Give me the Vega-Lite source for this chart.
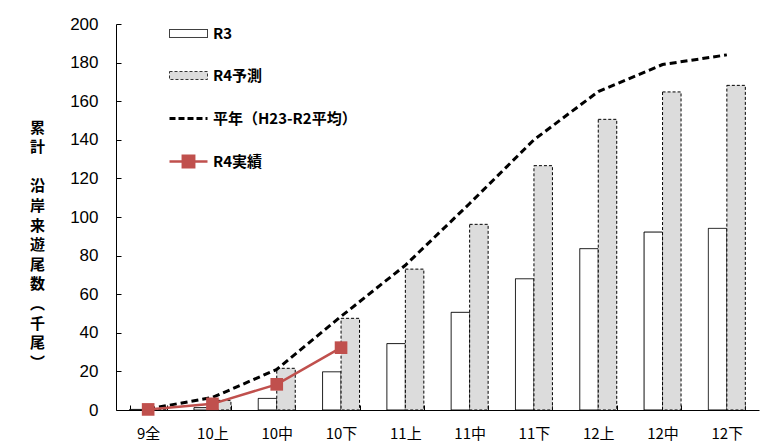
{
  "$schema": "https://vega.github.io/schema/vega-lite/v6.json",
  "width": 643,
  "height": 386,
  "autosize": {"type": "none"},
  "padding": {"left": 116, "top": 24, "right": 10, "bottom": 34},
  "background": "white",
  "config": {
    "view": {"stroke": null},
    "axis": {"domainColor": "black", "tickColor": "black", "labelColor": "black", "grid": false, "domainWidth": 1, "tickWidth": 1},
    "legend": {"padding": 0}
  },
  "data": {
    "values": [
      {"cat": "9全", "series": "R3", "value": 0.3},
      {"cat": "10上", "series": "R3", "value": 1.2},
      {"cat": "10中", "series": "R3", "value": 6},
      {"cat": "10下", "series": "R3", "value": 19.8},
      {"cat": "11上", "series": "R3", "value": 34.4},
      {"cat": "11中", "series": "R3", "value": 50.6},
      {"cat": "11下", "series": "R3", "value": 68},
      {"cat": "12上", "series": "R3", "value": 83.6},
      {"cat": "12中", "series": "R3", "value": 92.2},
      {"cat": "12下", "series": "R3", "value": 94.1},
      {"cat": "9全", "series": "R4予測", "value": 0.5},
      {"cat": "10上", "series": "R4予測", "value": 5},
      {"cat": "10中", "series": "R4予測", "value": 21.6},
      {"cat": "10下", "series": "R4予測", "value": 47.5},
      {"cat": "11上", "series": "R4予測", "value": 73},
      {"cat": "11中", "series": "R4予測", "value": 96.2},
      {"cat": "11下", "series": "R4予測", "value": 126.6},
      {"cat": "12上", "series": "R4予測", "value": 150.6},
      {"cat": "12中", "series": "R4予測", "value": 164.8},
      {"cat": "12下", "series": "R4予測", "value": 168.2},
      {"cat": "9全", "series": "平年（H23-R2平均）", "value": 0.5},
      {"cat": "10上", "series": "平年（H23-R2平均）", "value": 6.5},
      {"cat": "10中", "series": "平年（H23-R2平均）", "value": 21},
      {"cat": "10下", "series": "平年（H23-R2平均）", "value": 48.5},
      {"cat": "11上", "series": "平年（H23-R2平均）", "value": 75},
      {"cat": "11中", "series": "平年（H23-R2平均）", "value": 107},
      {"cat": "11下", "series": "平年（H23-R2平均）", "value": 140},
      {"cat": "12上", "series": "平年（H23-R2平均）", "value": 165},
      {"cat": "12中", "series": "平年（H23-R2平均）", "value": 179},
      {"cat": "12下", "series": "平年（H23-R2平均）", "value": 184},
      {"cat": "9全", "series": "R4実績", "value": 0.3},
      {"cat": "10上", "series": "R4実績", "value": 3.2},
      {"cat": "10中", "series": "R4実績", "value": 13.3},
      {"cat": "10下", "series": "R4実績", "value": 32.3}
    ]
  },
  "encoding": {
    "x": {
      "field": "cat", "type": "nominal", "sort": null,
      "scale": {"domain": ["9全","10上","10中","10下","11上","11中","11下","12上","12中","12下"], "paddingInner": 0.425, "paddingOuter": 0.2125},
      "axis": {"title": null, "labelAngle": 0, "labelFont": "Noto Sans CJK JP", "labelFontSize": 15, "labelPadding": 21, "tickSize": -5, "tickBand": "extent"}
    },
    "y": {
      "field": "value", "type": "quantitative",
      "scale": {"domain": [0, 200], "nice": false},
      "axis": {
        "values": [0,20,40,60,80,100,120,140,160,180,200],
        "labelFont": "Liberation Sans", "labelFontSize": 17, "labelPadding": 23, "tickSize": -5,
        "title": ["累","計","\u200b","沿","岸","来","遊","尾","数","︵","千","尾","︶"],
        "titleFont": "Noto Sans CJK JP", "titleFontSize": 15, "titleFontWeight": "bold", "titleColor": "black",
        "titleAngle": 0, "titleLineHeight": 19.6, "titleX": -79, "titleY": 96, "titleAlign": "center", "titleBaseline": "top"
      }
    }
  },
  "layer": [
    {
      "transform": [{"filter": "false"}],
      "mark": {"type": "point", "filled": true, "opacity": 1},
      "encoding": {
        "fill": {
          "field": "series", "type": "nominal",
          "scale": {"domain": ["R3", "R4予測", "平年（H23-R2平均）", "R4実績"], "range": ["white", "#dcdcdc", "transparent", "#c0504d"]},
          "legend": {
            "title": null, "orient": "none", "legendX": 52, "legendY": -10,
            "symbolSize": 1444, "symbolOpacity": 1, "labelFont": "Noto Sans CJK JP", "labelFontSize": 15, "labelFontWeight": "bold", "labelColor": "black",
            "labelOffset": 4, "rowPadding": 14
          }
        },
        "stroke": {
          "field": "series", "type": "nominal",
          "scale": {"domain": ["R3", "R4予測", "平年（H23-R2平均）", "R4実績"], "range": ["black", "#333333", "black", "#c0504d"]}
        },
        "shape": {
          "field": "series", "type": "nominal",
          "scale": {"domain": ["R3", "R4予測", "平年（H23-R2平均）", "R4実績"], "range": ["M-1,-0.21H1V0.21H-1Z", "M-1,-0.21H1V0.21H-1Z", "M-1,0H1", "M-1,0H1M-0.3,-0.3H0.3V0.3H-0.3Z"]}
        },
        "strokeDash": {
          "field": "series", "type": "nominal",
          "scale": {"domain": ["R3", "R4予測", "平年（H23-R2平均）", "R4実績"], "range": [[1, 0], [3, 2], [6, 3], [1, 0]]}
        },
        "strokeWidth": {
          "field": "series", "type": "nominal",
          "scale": {"type": "ordinal", "domain": ["R3", "R4予測", "平年（H23-R2平均）", "R4実績"], "range": [1, 1, 3, 2.5]}
        }
      }
    },
    {
      "transform": [{"filter": "datum.series === 'R3' || datum.series === 'R4予測'"}],
      "mark": {"type": "bar", "stroke": "black", "strokeWidth": 1},
      "encoding": {
        "xOffset": {"field": "series", "type": "nominal", "scale": {"domain": ["R3", "R4予測"], "paddingInner": 0, "paddingOuter": 0}},
        "fill": {"field": "series", "type": "nominal"},
        "strokeDash": {"field": "series", "type": "nominal"}
      }
    },
    {
      "transform": [{"filter": "datum.series === '平年（H23-R2平均）'"}],
      "mark": {"type": "line", "color": "black", "strokeWidth": 3, "strokeDash": [7, 4]},
      "encoding": {}
    },
    {
      "transform": [{"filter": "datum.series === 'R4実績'"}],
      "mark": {"type": "line", "color": "#c0504d", "strokeWidth": 2.5, "point": {"shape": "square", "size": 160, "filled": true, "color": "#c0504d", "opacity": 1}},
      "encoding": {}
    }
  ]
}
